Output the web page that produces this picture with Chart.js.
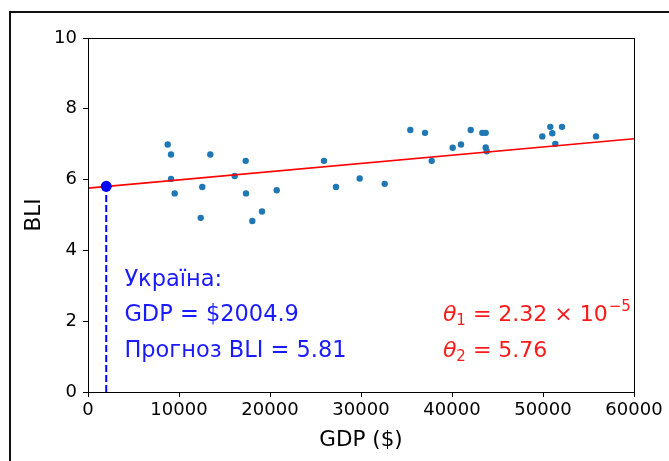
<!DOCTYPE html>
<html>
<head>
<meta charset="utf-8">
<script src="https://cdn.jsdelivr.net/npm/chart.js@4"></script>
<style>
  html, body { margin: 0; padding: 0; background: #fff; }
  #wrap { position: relative; width: 669px; height: 461px; overflow: hidden; }
  #frame { position: absolute; left: 9px; top: 11px; width: 700px; height: 500px;
           border-left: 2px solid #111; border-top: 2px solid #111; }
  canvas { position: absolute; left: 0; top: 0; }
</style>
</head>
<body>
<div id="wrap">
  <div id="frame"></div>
  <canvas id="c" width="669" height="461"></canvas>
</div>
<script>
/* GDP vs BLI scatter with a fitted line and the prediction for Ukraine. */

// countries: GDP per capita ($) and BLI
const gdp = [8758, 9121, 13440, 17330, 9121, 16121, 9527, 12560, 17363, 20736, 19121,
             12385, 18055, 25934, 27253, 29857, 32604, 35418, 37033, 37769, 40077, 40989,
             42055, 43330, 43703, 43703, 43813, 49923, 50802, 51022, 51352, 52088, 55824];
const bli = [6.99, 6.71, 6.71, 6.53, 6.02, 6.10, 5.61, 5.79, 5.61, 5.70, 5.10,
             4.92, 4.83, 6.53, 5.79, 6.03, 5.88, 7.40, 7.32, 6.53, 6.90, 6.99,
             7.40, 7.32, 7.32, 6.91, 6.80, 7.22, 7.49, 7.31, 7.01, 7.49, 7.22];

// fitted line end points
const lineGdp = [0, 60000];
const lineBli = [5.76, 7.152];

// prediction for Ukraine
const ukrGdp = 2004.9;
const ukrBli = 5.81;

const xTicks = [0, 10000, 20000, 30000, 40000, 50000, 60000];
const yTicks = [0, 2, 4, 6, 8, 10];

const blueNotes = ["Україна:", "GDP = $2004.9", "Прогноз BLI = 5.81"];
const theta1 = { name: "θ", sub: "1", rest: " = 2.32 × 10", sup: "−5" };
const theta2 = { name: "θ", sub: "2", rest: " = 5.76", sup: "" };

const FONT = "'DejaVu Sans', sans-serif";
const INK = "#000";

const pts = (xs, ys) => xs.map((x, i) => ({ x, y: ys[i] }));

const extras = {
  id: "extras",
  afterDatasetsDraw(chart) {
    const { ctx, chartArea: a, scales: { x, y } } = chart;
    ctx.save();
    // spines
    ctx.strokeStyle = INK;
    ctx.lineWidth = 1;
    ctx.strokeRect(Math.round(a.left) + 0.5, Math.round(a.top) + 0.5,
                   Math.round(a.width), Math.round(a.height));

    // blue notes (data coords)
    ctx.font = "22.5px " + FONT;
    ctx.fillStyle = "#1a1aff";
    ctx.textBaseline = "alphabetic";
    blueNotes.forEach((t, i) => ctx.fillText(t, x.getPixelForValue(4000), y.getPixelForValue(3 - i)));

    // red theta notes
    ctx.fillStyle = "#ff1a1a";
    [theta1, theta2].forEach((t, i) => {
      let px = x.getPixelForValue(39000);
      const py = y.getPixelForValue(2 - i);
      ctx.font = "italic 22px " + FONT;
      ctx.fillText(t.name, px, py);
      px += ctx.measureText(t.name).width;
      ctx.font = "15px " + FONT;
      ctx.fillText(t.sub, px, py + 4);
      px += ctx.measureText(t.sub).width;
      ctx.font = "22px " + FONT;
      ctx.fillText(t.rest, px, py);
      px += ctx.measureText(t.rest).width;
      if (t.sup) {
        ctx.font = "15px " + FONT;
        ctx.fillText(t.sup, px + 1, py - 10);
      }
    });
    ctx.restore();
  }
};

new Chart(document.getElementById("c"), {
  type: "scatter",
  data: {
    datasets: [
      {
        data: pts(gdp, bli),
        backgroundColor: "#1f77b4", borderWidth: 0, pointRadius: 3.2, order: 3,
      },
      {
        type: "line",
        data: pts(lineGdp, lineBli),
        borderColor: "#ff0000", borderWidth: 1.6, pointRadius: 0, fill: false, order: 2,
      },
      {
        type: "line",
        data: pts([ukrGdp, ukrGdp], [0, ukrBli]),
        borderColor: "#0000ff", borderWidth: 2, borderDash: [7, 3], pointRadius: 0, fill: false, order: 1,
      },
      {
        data: [{ x: ukrGdp, y: ukrBli }],
        backgroundColor: "#0000ff", borderWidth: 0, pointRadius: 5.5, order: 0,
      },
    ],
  },
  options: {
    responsive: false,
    animation: false,
    events: [],
    layout: { padding: { left: 0, top: 38, right: 35, bottom: 0 } },
    plugins: { legend: { display: false }, tooltip: { enabled: false } },
    scales: {
      x: {
        type: "linear", min: 0, max: 60000,
        afterBuildTicks: s => { s.ticks = xTicks.map(v => ({ value: v })); },
        afterFit: s => { s.height = 69; },
        grid: { drawOnChartArea: false, drawTicks: true, tickLength: 5, color: INK },
        border: { display: false },
        ticks: { color: INK, padding: 3, font: { family: FONT, size: 18 }, maxRotation: 0, callback: v => String(v) },
        title: { display: true, text: "GDP ($)", color: INK, font: { family: FONT, size: 21.5 }, padding: { top: 2, bottom: 8 } },
      },
      y: {
        type: "linear", min: 0, max: 10,
        afterBuildTicks: s => { s.ticks = yTicks.map(v => ({ value: v })); },
        afterFit: s => { s.width = 88; },
        grid: { drawOnChartArea: false, drawTicks: true, tickLength: 5, color: INK },
        border: { display: false },
        ticks: { color: INK, padding: 6, font: { family: FONT, size: 18 }, callback: v => String(v) },
        title: { display: true, text: "BLI", color: INK, font: { family: FONT, size: 21.5 }, padding: { top: 22, bottom: 4 } },
      },
    },
  },
  plugins: [extras],
});
</script>
</body>
</html>
